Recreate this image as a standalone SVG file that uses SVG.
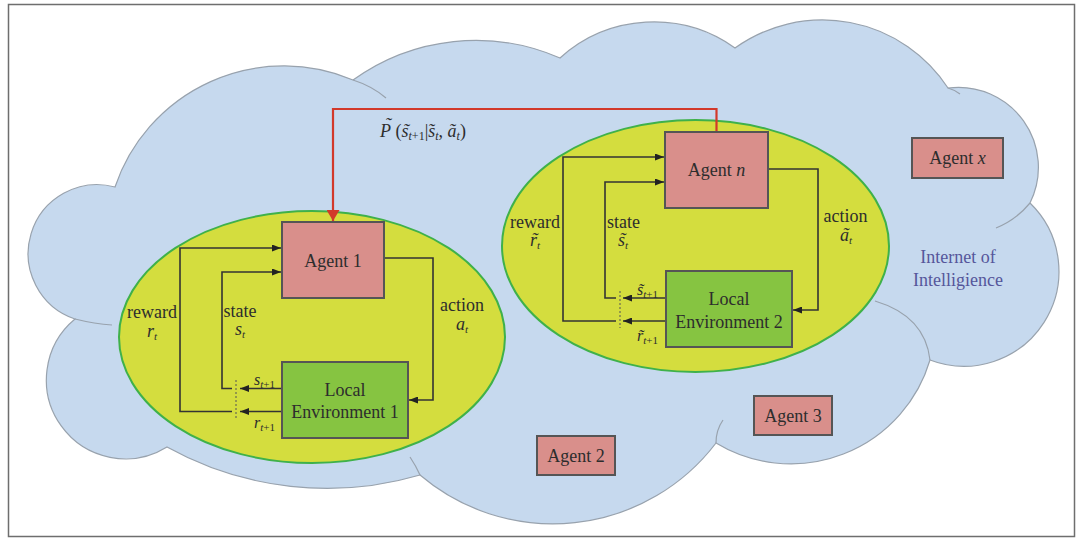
<svg xmlns="http://www.w3.org/2000/svg" width="1086" height="539" viewBox="0 0 1086 539">
  <defs>
    <marker id="ah" viewBox="0 0 9 7" refX="9" refY="3.5" markerWidth="9" markerHeight="7" markerUnits="userSpaceOnUse" orient="auto">
      <path d="M0,0 L9,3.5 L0,7 z" fill="#222222"/>
    </marker>
    <marker id="ahRed" viewBox="0 0 11 13" refX="11" refY="6.5" markerWidth="11" markerHeight="13" markerUnits="userSpaceOnUse" orient="auto">
      <path d="M0,0 L11,6.5 L0,13 z" fill="#d2392a"/>
    </marker>
  </defs>

  <rect x="8.5" y="4.5" width="1066" height="532" fill="#ffffff" stroke="#6e6e6e" stroke-width="1.5"/>

  <!-- cloud: the network of agents -->
  <g id="cloud">
    <path fill="#c6d9ee" stroke="#98a2ad" stroke-width="1.2" d="M75,319
      A69 69 0 0 1 115,187
      A178 178 0 0 1 353,80
      A210 210 0 0 1 560,58
      A140 140 0 0 1 735,48
      A150 150 0 0 1 948,88
      A80 80 0 0 1 1030,203
      A95 95 0 0 1 930,360
      A145 145 0 0 1 716,443
      A205 205 0 0 1 420,475
      A330 330 0 0 1 167,447
      A79 79 0 0 1 75,319 Z"/>
    <g fill="none" stroke="#98a2ad" stroke-width="1.2">
      <path d="M353,80 Q372,86 386,98"/>
      <path d="M948,88 Q955,90 960,94"/>
      <path d="M1030,203 Q1016,220 996,228"/>
      <path d="M875,301 Q925,316 930,360"/>
      <path d="M716,443 Q716,430 723,420"/>
      <path d="M410,457 Q416,466 420,475"/>
      <path d="M75,319 Q95,324 112,325"/>
    </g>
    <g font-family="Liberation Serif" font-size="18" fill="#55569b" text-anchor="middle">
      <text x="958" y="263">Internet of</text>
      <text x="958" y="286">Intelligience</text>
    </g>
  </g>

  <!-- local learning zones -->
  <g fill="#d4dd3e" stroke="#3fb14a" stroke-width="2">
    <g id="zone-1"><ellipse cx="312" cy="337" rx="193" ry="126"/></g>
    <g id="zone-2"><ellipse cx="695.5" cy="246" rx="193.5" ry="126"/></g>
  </g>

  <g id="connectors" fill="none" stroke="#333333" stroke-width="1.6">
    <!-- shared transition model from agent n to agent 1 -->
    <path stroke="#d2392a" stroke-width="2.2" d="M716.5,132 V109 H333 V221" marker-end="url(#ahRed)"/>
    <!-- loop 1 -->
    <path d="M232,411.5 H180 V248 H281" marker-end="url(#ah)"/>
    <path d="M232,388.5 H222 V272 H281" marker-end="url(#ah)"/>
    <path d="M282,388.5 H240" marker-end="url(#ah)"/>
    <path d="M282,411.5 H240" marker-end="url(#ah)"/>
    <path d="M236,380 V419" stroke="#555555" stroke-width="1" stroke-dasharray="2 2"/>
    <path d="M384,258 H433 V400 H409" marker-end="url(#ah)"/>
    <!-- loop 2 -->
    <path d="M616,321 H563 V157 H664" marker-end="url(#ah)"/>
    <path d="M616,298 H605 V182 H664" marker-end="url(#ah)"/>
    <path d="M666,298 H623" marker-end="url(#ah)"/>
    <path d="M666,321 H623" marker-end="url(#ah)"/>
    <path d="M620,291 V328" stroke="#555555" stroke-width="1" stroke-dasharray="2 2"/>
    <path d="M768,169 H818 V310 H793" marker-end="url(#ah)"/>
  </g>

  <!-- boxes and their captions -->
  <g font-family="Liberation Serif" font-size="18" fill="#2d2d2d" text-anchor="middle" stroke-width="2">
    <g id="agent-1">
      <rect x="282" y="222" width="102" height="76" fill="#d98f8b" stroke="#555555"/>
      <text x="333" y="267">Agent 1</text>
    </g>
    <g id="env-1">
      <rect x="282" y="362" width="126" height="76" fill="#86c441" stroke="#555555"/>
      <text x="345" y="396">Local</text>
      <text x="345" y="418">Environment 1</text>
    </g>
    <g id="agent-n">
      <rect x="665" y="132" width="103" height="76" fill="#d98f8b" stroke="#555555"/>
      <text x="716.5" y="176">Agent <tspan font-style="italic">n</tspan></text>
    </g>
    <g id="env-2">
      <rect x="666" y="271" width="126" height="76" fill="#86c441" stroke="#555555"/>
      <text x="729" y="305">Local</text>
      <text x="729" y="328">Environment 2</text>
    </g>
    <g id="agent-2">
      <rect x="537" y="436" width="78" height="39" fill="#d98f8b" stroke="#555555"/>
      <text x="576" y="462">Agent 2</text>
    </g>
    <g id="agent-3">
      <rect x="754" y="396" width="78" height="39" fill="#d98f8b" stroke="#555555"/>
      <text x="793" y="422">Agent 3</text>
    </g>
    <g id="agent-x">
      <rect x="912" y="138" width="91" height="40" fill="#d98f8b" stroke="#555555"/>
      <text x="957.5" y="164">Agent <tspan font-style="italic">x</tspan></text>
    </g>
  </g>

  <!-- signal labels; tildes are set as separate accent characters -->
  <g id="labels" font-family="Liberation Serif" font-size="18" fill="#2d2d2d">
    <!-- P~(s~_{t+1} | s~_t, a~_t) -->
    <text x="380" y="137"><tspan font-style="italic">P</tspan> (<tspan font-style="italic">s</tspan><tspan font-size="12" dy="3"><tspan font-style="italic">t</tspan>+1</tspan><tspan dy="-3">|</tspan><tspan font-style="italic">s</tspan><tspan font-size="12" font-style="italic" dy="3">t</tspan><tspan dy="-3">, </tspan><tspan font-style="italic">a</tspan><tspan font-size="12" font-style="italic" dy="3">t</tspan><tspan dy="-3">)</tspan></text>
    <g text-anchor="middle" font-style="italic">
      <text x="388" y="131">˜</text>
      <text x="406" y="137">˜</text>
      <text x="431" y="137">˜</text>
      <text x="452" y="137">˜</text>
    </g>

    <g text-anchor="middle">
      <text x="152" y="318">reward</text>
      <text x="240" y="317">state</text>
      <text x="462" y="311">action</text>
      <text x="535" y="228">reward</text>
      <text x="623.5" y="228">state</text>
      <text x="845.5" y="222">action</text>
    </g>
    <g font-style="italic">
      <text x="147" y="337">r<tspan font-size="11" dy="3">t</tspan></text>
      <text x="235" y="335">s<tspan font-size="11" dy="3">t</tspan></text>
      <text x="456" y="330">a<tspan font-size="11" dy="3">t</tspan></text>
      <text x="530" y="246">r<tspan font-size="11" dy="3">t</tspan></text>
      <text x="618" y="246">s<tspan font-size="11" dy="3">t</tspan></text>
      <text x="840" y="241">a<tspan font-size="11" dy="3">t</tspan></text>
    </g>
    <g font-style="italic" text-anchor="middle">
      <text x="534.5" y="246">˜</text>
      <text x="622.5" y="246">˜</text>
      <text x="845.5" y="241">˜</text>
    </g>
    <g font-style="italic" font-size="16" text-anchor="end">
      <text x="275" y="385">s<tspan font-size="11" dy="3">t<tspan font-style="normal">+1</tspan></tspan></text>
      <text x="275" y="428">r<tspan font-size="11" dy="3">t<tspan font-style="normal">+1</tspan></tspan></text>
      <text x="658" y="295">s<tspan font-size="11" dy="3">t<tspan font-style="normal">+1</tspan></tspan></text>
      <text x="658" y="341">r<tspan font-size="11" dy="3">t<tspan font-style="normal">+1</tspan></tspan></text>
    </g>
    <g font-style="italic" font-size="16" text-anchor="middle">
      <text x="641" y="295">˜</text>
      <text x="641" y="341">˜</text>
    </g>
  </g>
</svg>
